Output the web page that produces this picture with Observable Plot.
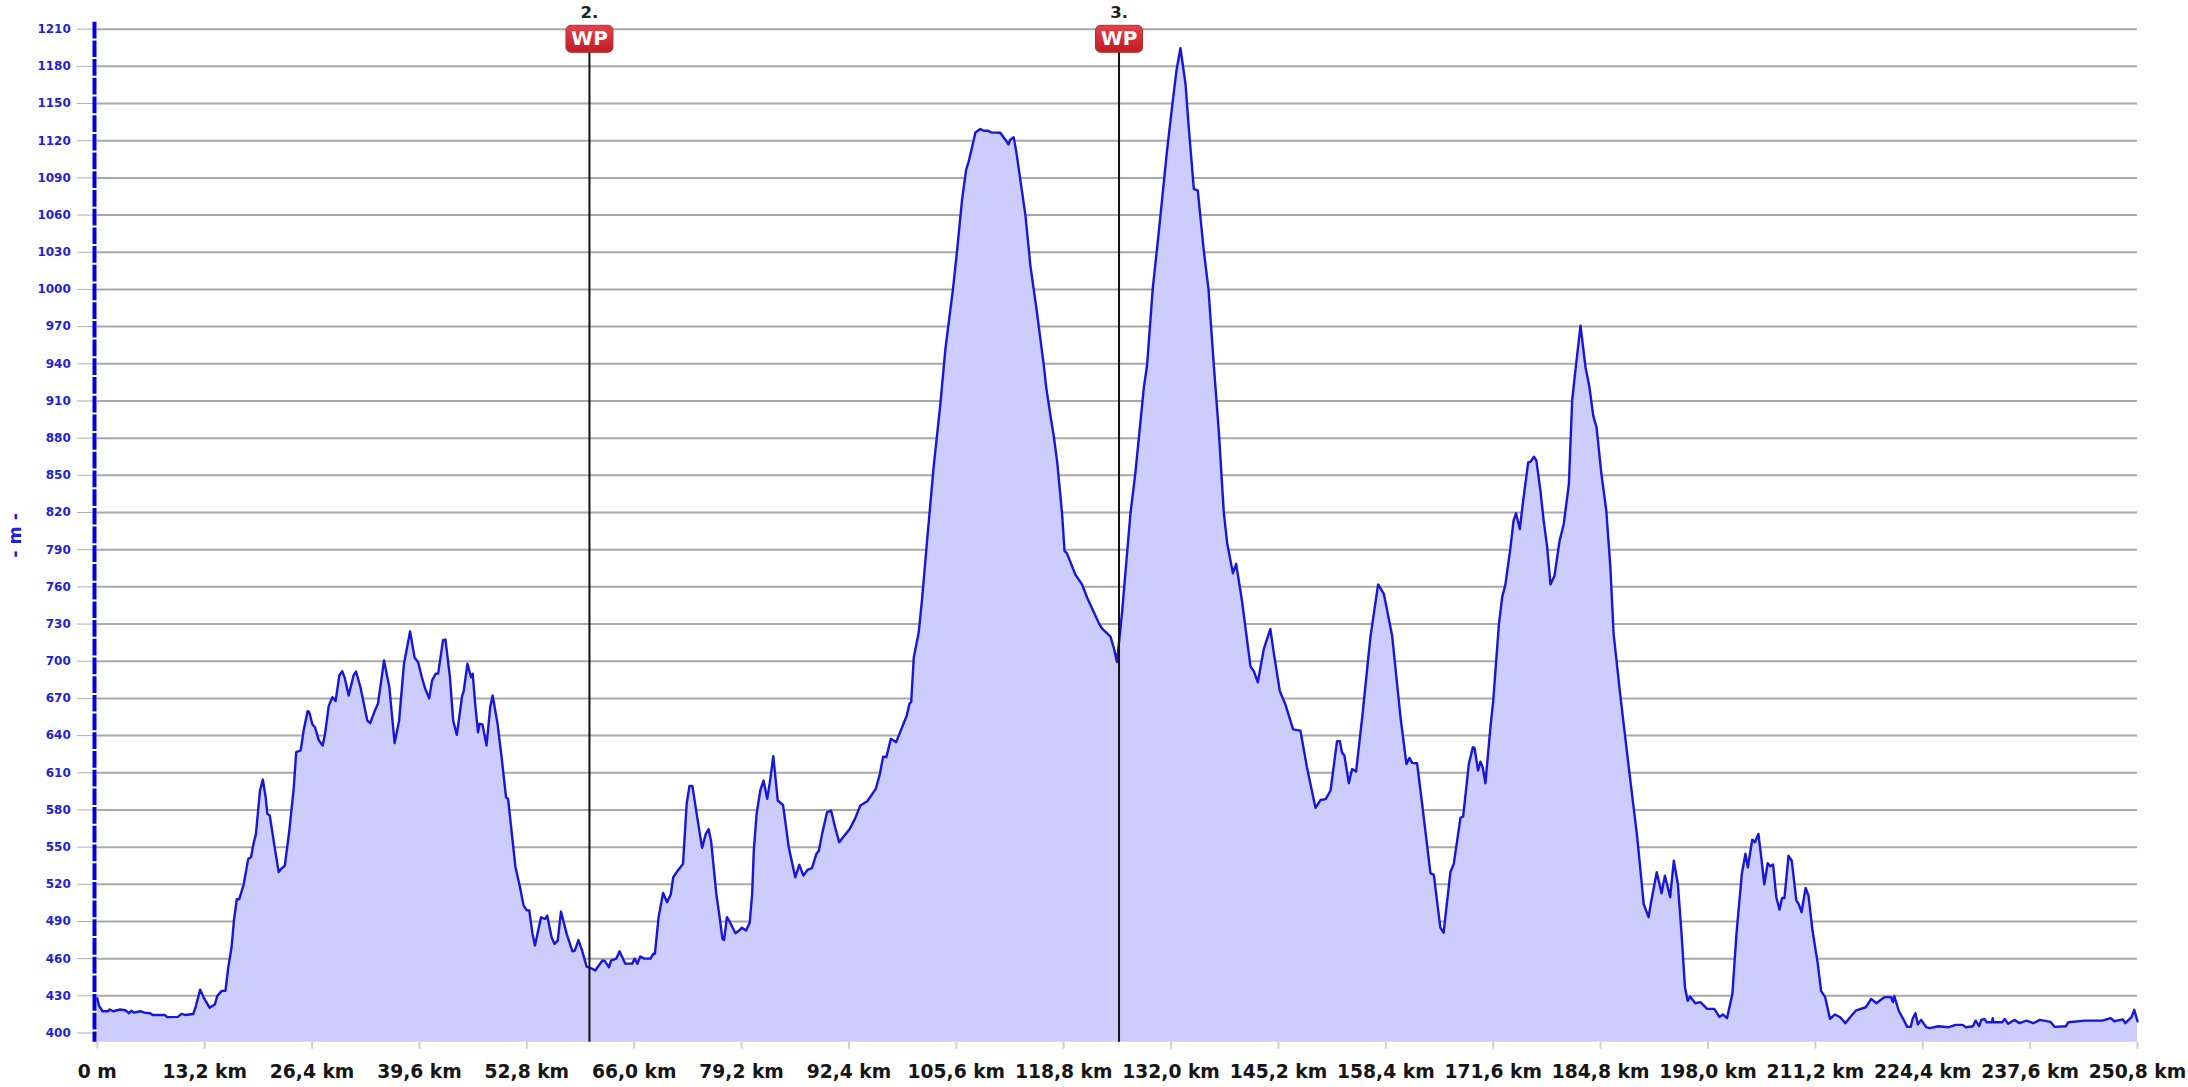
<!DOCTYPE html>
<html>
<head>
<meta charset="utf-8">
<script src="https://cdn.jsdelivr.net/npm/d3@7"></script>
<script src="https://cdn.jsdelivr.net/npm/@observablehq/plot@0.6"></script>
<style>
html,body{margin:0;padding:0;background:#fff;}
svg{display:block;}
</style>
</head>
<body>
<div id="chart"></div>
<script>
// Elevation profile [km, m], in four legs
const legA = [[0,428],[0.2,422],[0.65,417.6],[1.3,417.6],[1.55,419],[1.95,417.6],[2.8,419],[3.45,418.4],[3.9,416],[4.2,418],[4.5,416.5],[5.3,417.6],[5.8,416.5],[6.5,416],[6.8,414.6],[8.3,414.6],[8.6,412.8],[9.9,413],[10.35,415.4],[10.8,414.6],[11.8,415.4],[12.1,421.4],[12.65,435],[13.05,429],[13.8,420.5],[14.45,423],[14.75,430],[15.3,434],[15.75,434],[16.1,453],[16.5,469],[16.8,491],[17.15,508],[17.45,508],[18,520],[18.55,540.5],[18.9,542],[19.2,552.6],[19.5,560.7],[20,595.7],[20.35,604.5],[20.7,590],[20.9,577],[21.2,575.5],[21.8,550],[22.3,529.8],[22.6,532.5],[23.05,535],[23.6,563],[24.15,598],[24.45,626.6],[25,628],[25.4,645.4],[25.85,659.7],[26.05,659],[26.45,649],[26.75,646.8],[27.25,636],[27.7,632],[28,641.4],[28.45,664],[28.9,671],[29.3,668],[29.75,688.5],[30.1,692],[30.4,687],[30.9,672.3],[31.5,688.5],[31.8,691.7],[32.35,679],[33.2,652],[33.55,650],[34.05,659],[34.5,665.6],[35.25,700.6],[35.9,679],[36.55,634],[37.1,652],[37.7,698],[38.45,724],[39,703],[39.45,699],[39.9,687],[40.3,678],[40.8,670],[41.15,684.4],[41.6,690],[41.9,690],[42.5,717],[42.8,717.5],[43.35,687],[43.75,652],[44.2,640.6],[44.85,672],[45.05,676],[45.5,698],[45.95,687],[46.15,690],[46.45,665.6],[46.8,642.7],[47,649.5],[47.35,649],[47.85,632],[48.3,663],[48.6,672.3],[49.2,649.5],[49.7,622.6],[50.25,590],[50.5,589],[51.4,534],[51.95,518],[52.4,503],[52.8,499],[53.1,499],[53.5,480],[53.8,470.6],[54.55,493.4],[55.05,492],[55.3,494.8],[55.85,477],[56.2,472],[56.6,474.6],[57,498],[57.7,480],[58.4,466],[58.7,466.5],[59.15,475],[59.6,466.5],[60.15,453.6],[60.8,452],[61.2,450.4],[62.1,458.5],[62.4,458],[62.9,453]];
const legB = [[63.15,458.5],[63.8,460],[64.2,466],[64.9,456],[65.75,456],[66.05,460],[66.4,456],[66.75,461.7],[67.25,460],[68,460],[68.35,464],[68.55,464],[69,493.5],[69.55,513],[70.05,505.6],[70.5,512],[70.8,525.7],[71.35,531],[72,536.5],[72.45,585],[72.8,599.4],[73.15,599.4],[73.75,574],[74.35,549.4],[74.8,560.7],[75.15,564.5],[75.45,555],[76.1,512],[76.5,493.5],[76.85,476],[77.05,475],[77.4,493.5],[77.8,489],[78.45,480.5],[78.9,482.7],[79.25,485],[79.75,482.7],[80.2,489],[80.5,512],[80.7,547],[81.05,577],[81.5,595.7],[81.9,603.7],[82.35,589],[82.65,601],[83.1,623.4],[83.65,587.6],[84.3,584],[85,550],[85.8,525.7],[86.3,535.7],[86.8,527],[87.3,531.6],[87.85,533],[88.4,544.6],[88.7,547],[89.1,560.7],[89.7,578],[90.2,579.5],[90.7,566],[91.2,554],[91.85,559.4],[92.5,564.7],[93.15,573],[93.8,583.6],[94.65,587],[95.7,597],[96.2,609],[96.6,623],[97,622.6],[97.55,637.4],[98.2,634.7],[98.95,647],[99.5,656],[99.85,666],[100.05,667],[100.37,703],[100.98,723.5],[101.4,751],[102,797],[102.8,856],[103.65,908.4],[104.25,951.6],[105.2,1001],[105.7,1032],[106.3,1072],[106.8,1096.5],[107.1,1102.7],[107.95,1126.7],[108.55,1129.5],[108.97,1128],[109.5,1128],[109.9,1126.7],[111,1126.4],[111.65,1120.6],[112,1117],[112.25,1121],[112.65,1122.7],[112.95,1112],[113.5,1087],[114.1,1059.5],[114.7,1019.4],[115.5,982],[116.35,939],[116.65,921],[117.15,899],[117.6,880.7],[118,860.6],[118.6,819],[118.9,789],[119.2,787],[120.25,769.7],[121.05,762],[121.7,751],[123.1,731],[123.5,726.5],[124.55,719.8],[124.95,711],[125.35,699.4]];
const legC = [[125.97,739],[127,819],[127.6,851.4],[128.65,920.8],[129.05,939],[129.75,1001],[130.5,1047],[131.5,1112],[132.13,1148],[132.66,1176.6],[133.15,1194.6],[133.77,1166],[134.18,1130],[134.8,1081],[135.28,1080],[136,1032.5],[136.6,1000],[137.25,939],[137.87,885],[138.48,820],[138.9,795],[139.6,771],[140,778.6],[140.73,748],[141.76,695.7],[142.17,692],[142.66,683],[143.4,710],[144.2,726],[144.6,708],[145.36,676],[146.06,665],[147,645],[147.9,644],[148.7,614.5],[149.75,581.7],[150.36,588],[151,588.7],[151.6,595.7],[152.4,635.5],[152.75,635.5],[153,626.6],[153.3,624],[153.85,601.6],[154.25,613],[154.74,611],[155.5,655],[156.5,719.4],[157.45,762],[158.15,754.4],[159.17,720.8],[160.2,655],[160.93,617],[161.3,622],[161.63,618],[162.24,617.7],[162.86,585],[163.88,529],[164.3,527.6],[165.1,485],[165.5,481],[166.34,530],[166.75,536.5],[167.57,573.6],[167.9,574.7],[168.6,617],[169.1,630.7],[169.3,630],[169.74,611.8],[170.03,619],[170.3,614.5],[170.64,601.6],[171.26,647]];
const legD = [[171.6,668],[172.3,730],[172.7,751.6],[173.1,762],[173.7,790.6],[174.1,813.5],[174.4,819.4],[174.87,806.7],[175.28,829.6],[175.9,860.5],[176.2,861],[176.6,865],[176.9,862],[177.4,837.7],[177.8,813.5],[178.23,792],[178.64,762],[179.13,769],[179.75,797],[180.27,810.8],[180.9,843],[181.3,910],[181.7,934.5],[182.33,970.8],[182.95,937],[183.43,921],[183.9,898],[184.3,888.8],[184.9,851],[185.5,821.5],[186,775.8],[186.4,722],[187.2,673.7],[188.26,614.5],[189.3,558],[190.1,504],[190.7,493.5],[191,505.6],[191.7,529.8],[192.3,512.8],[192.7,527],[193.35,509.6],[193.8,539],[194.3,520],[194.75,480],[195.17,437],[195.5,426],[195.8,429.4],[196.44,424],[197.07,425],[197.9,419.5],[198.77,419.5],[199.4,413],[199.83,415],[200.34,412],[201,431.6],[201.5,480],[202.16,528.4],[202.6,544.6],[202.9,533.8],[203.44,556],[203.77,554],[204.2,560.7],[204.6,539],[204.92,520],[205.34,537],[205.64,534.6],[206,536],[206.4,509.6],[206.8,499.6],[207.1,509],[207.4,509],[207.9,543],[208.3,539],[208.86,507],[209.16,504],[209.5,497.5],[210,517],[210.35,511],[210.85,482.7],[211.5,455.8],[211.9,434],[212.4,429],[213,411.4],[213.6,415],[214.25,412.7],[214.9,408],[215.5,413],[216.15,418],[217.4,420.8],[218.06,427.5],[218.7,424],[219.3,427],[219.75,429],[220.5,429],[220.73,425],[220.9,430],[221.45,418],[222.1,410],[222.5,405],[222.93,405],[223.15,411.4],[223.5,416],[223.8,407],[224.2,410.6],[224.84,404.7],[225.27,404],[226.3,405.5],[227.6,404.7],[228.45,406.6],[229.3,406.6],[229.7,404.7],[230.57,405.5],[230.9,410],[231.33,405.5],[231.6,410.6],[232,411.4],[232.26,408.7],[232.9,408.7],[233,412],[233.1,408.7],[234.17,408.7],[234.47,411.4],[234.9,407.4],[235.65,410.6],[236.3,408],[237.13,410],[238,407.9],[238.8,410.6],[240.1,409],[240.6,405],[242,405.5],[242.3,408.7],[244.35,410],[246.46,410],[247.5,412],[247.95,409.5],[249,411],[249.3,408],[250.06,412.8],[250.4,418.7],[250.8,409.5]];

const xTicks = [0,13.2,26.4,39.6,52.8,66,79.2,92.4,105.6,118.8,132,145.2,158.4,171.6,184.8,198,211.2,224.4,237.6,250.8];
const yTicks = [400,430,460,490,520,550,580,610,640,670,700,730,760,790,820,850,880,910,940,970,1000,1030,1060,1090,1120,1150,1180,1210];
const waypointKm = [60.5,125.6];
const waypointLabel = ["2.","3."];

const profile = [...legA,...legB,...legC,...legD];
const km = profile.map(d=>d[0]);
const elev = profile.map(d=>d[1]);
const yMin = 392.6, yMax = 1217;

const font = "'DejaVu Sans', Verdana, sans-serif";
const blue = "#1616dc";

const badge = { draw(ctx){ // rounded badge, 47 x 27
  const w=23.5,h=13.5,r=5;
  ctx.moveTo(-w+r,-h);
  ctx.arcTo(w,-h,w,h,r);
  ctx.arcTo(w,h,-w,h,r);
  ctx.arcTo(-w,h,-w,-h,r);
  ctx.arcTo(-w,-h,w,-h,r);
  ctx.closePath();
}};

const gradient = () => {
  const s = d3.create("svg:linearGradient").attr("id","wpfill").attr("x1",0).attr("y1",0).attr("x2",0).attr("y2",1);
  s.append("stop").attr("offset","0").attr("stop-color","#e8404a");
  s.append("stop").attr("offset","1").attr("stop-color","#c01c24");
  const g = d3.create("svg:defs"); g.append(()=>s.node());
  return g.node();
};

const chart = Plot.plot({
  width:2188, height:1087,
  marginLeft:96.8, marginRight:51, marginTop:20, marginBottom:45.3,
  style:{background:"#fff", fontFamily:font},
  x:{domain:[0,250.8], nice:false},
  y:{domain:[yMin,yMax], nice:false, zero:false},
  marks:[
    gradient,
    Plot.gridY(yTicks,{stroke:"#a8a8a8",strokeOpacity:1,strokeWidth:2}),
    Plot.axisY({ticks:yTicks,tickSize:20,tickPadding:6.5,stroke:"#b0b0b0",fill:"#1e1edc",fontSize:12,fontWeight:"bold",label:null,tickFormat:d=>String(d)}),
    Plot.axisX({ticks:xTicks,tickSize:7,tickPadding:15.5,stroke:"#cfcfcf",strokeWidth:2,fill:"#151515",fontSize:18.7,fontWeight:"bold",label:null,
      tickFormat:d=>d===0?"0 m":d.toFixed(1).replace(".",",")+" km"}),
    Plot.areaY({length:km.length},{x:km,y1:yMin,y2:elev,fill:"#ccccfd",fillOpacity:1}),
    Plot.lineY({length:km.length},{x:km,y:elev,stroke:blue,strokeWidth:2.4}),
    Plot.ruleX([0],{dx:-2.8,stroke:"#0000e0",strokeWidth:4,strokeDasharray:"16.7 2",strokeDashoffset:17}),
    Plot.ruleX(waypointKm,{y1:yMin,y2:1195,stroke:"#111",strokeWidth:2}),
    Plot.dot(waypointKm,{x:d=>d,frameAnchor:"top",dy:18.3,symbol:badge,fill:"url(#wpfill)",stroke:"#b03030",strokeWidth:1,r:10}),
    Plot.text(waypointKm,{x:d=>d,text:()=> "WP",frameAnchor:"top",lineAnchor:"middle",dy:18.5,fill:"#fff",fontSize:20,fontWeight:"bold",fontFamily:"'DejaVu Sans', sans-serif"}),
    Plot.text(waypointKm,{x:d=>d,text:(d,i)=>waypointLabel[i],frameAnchor:"top",lineAnchor:"middle",dy:-8,fill:"#222",fontSize:16.5,fontWeight:"bold"}),
    Plot.text(["- m -"],{frameAnchor:"left",textAnchor:"middle",lineAnchor:"middle",dx:-81.5,dy:4,rotate:-90,fill:"#1e1edc",fontSize:17.5,fontWeight:"bold"})
  ]
});
document.getElementById("chart").append(chart);
</script>
</body>
</html>
